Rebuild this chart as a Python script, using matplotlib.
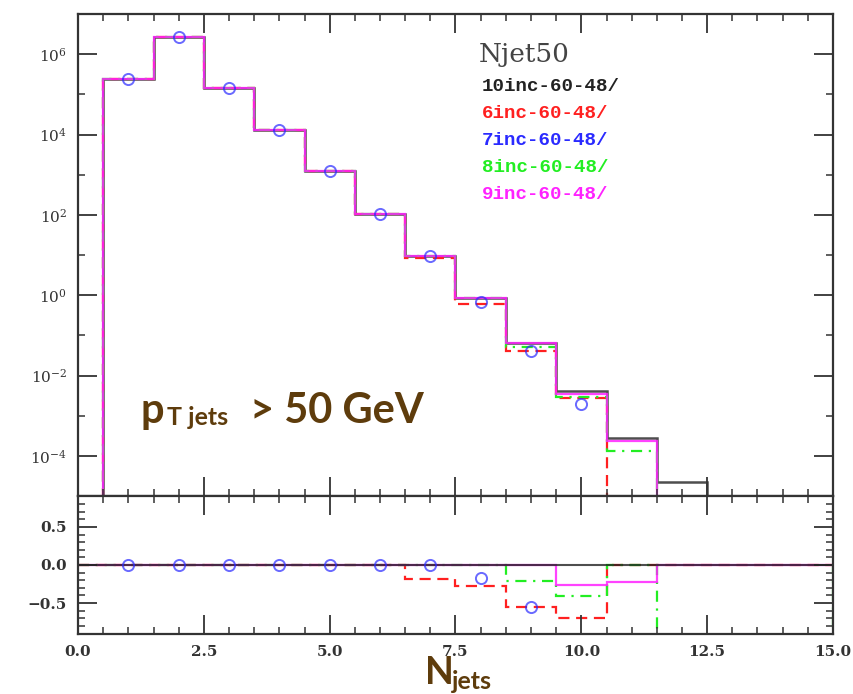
import numpy as np
import matplotlib
matplotlib.use("Agg")
import matplotlib.pyplot as plt
from matplotlib.ticker import FixedLocator, MultipleLocator, FuncFormatter, NullFormatter

# bins: N jets = 1 .. 12 (edges at half integers)
njets = np.arange(1, 13)

# main panel: cross section per jet multiplicity
y_10inc = [2.4e5, 2.7e6, 1.4e5, 1.26e4, 1.2e3, 107, 9.4, 0.83, 0.065, 0.0042, 2.8e-4, 2.2e-5]
y_6inc = [2.4e5, 2.7e6, 1.4e5, 1.26e4, 1.2e3, 105, 8.2, 0.62, 0.040, 0.0027]
y_7inc = [2.4e5, 2.7e6, 1.4e5, 1.26e4, 1.2e3, 107, 9.4, 0.67, 0.040, 0.0019]
y_8inc = [2.4e5, 2.7e6, 1.4e5, 1.26e4, 1.2e3, 107, 9.4, 0.83, 0.050, 0.0030, 1.3e-4]
y_9inc = [2.4e5, 2.7e6, 1.4e5, 1.26e4, 1.2e3, 107, 9.4, 0.83, 0.065, 0.0035, 2.3e-4]

# ratio panel, bins [0,0.5], then N = 1 .. 14, then [14.5,15]
r_6inc = [0, 0, 0, 0, 0, 0, 0, -0.19, -0.27, -0.55, -0.70, 0, 0, 0, 0, 0]
r_8inc = [0, 0, 0, 0, 0, 0, 0, 0, 0, -0.21, -0.41, 0, -1, -1, -1, -1]
r_9inc = [0, 0, 0, 0, 0, 0, 0, 0, 0, 0, -0.26, -0.22, 0, 0, 0, 0]
r_7inc = [0, 0, 0, 0, 0, 0, 0, -0.17, -0.55]

labels = ["10inc-60-48/", "6inc-60-48/", "7inc-60-48/", "8inc-60-48/", "9inc-60-48/"]
colors = ["#222222", "#ff2020", "#2a2aff", "#22ee22", "#ff22ff"]
BROWN = "#5e3c0c"
W, H = 854, 694

plt.rcParams["mathtext.fontset"] = "dejavuserif"
fig = plt.figure(figsize=(W / 100, H / 100), dpi=100)
ax = fig.add_axes([78 / W, 1 - 496 / H, (833 - 78) / W, (496 - 14) / H])
axr = fig.add_axes([78 / W, 1 - 634 / H, (833 - 78) / W, (634 - 496) / H], sharex=ax)

edges = np.append(njets - 0.5, njets[-1] + 0.5)
base = 1e-12
ax.stairs(y_10inc, edges, baseline=base, color=colors[0], lw=1.8, alpha=0.8)
ax.stairs(y_6inc, edges[:len(y_6inc) + 1], baseline=base, color=colors[1], lw=1.6, ls=(0, (5, 3)))
ax.stairs(y_8inc, edges[:len(y_8inc) + 1], baseline=base, color=colors[3], lw=1.6, ls=(0, (5, 3, 1, 3)))
ax.stairs(y_9inc, edges[:len(y_9inc) + 1], baseline=base, color=colors[4], lw=1.6, alpha=0.85)
ax.plot(njets[:len(y_7inc)], y_7inc, "o", ms=8, mfc="none", mec=colors[2], mew=1.4, alpha=0.7)

ax.set_yscale("log")
ax.set_xlim(0, 15)
ax.set_ylim(1e-5, 1e7)
ax.yaxis.set_major_locator(FixedLocator(10.0 ** np.arange(-4, 7, 2)))
ax.yaxis.set_minor_locator(FixedLocator(10.0 ** np.arange(-5, 8, 2)))
ax.yaxis.set_minor_formatter(NullFormatter())
ax.yaxis.set_major_formatter(FuncFormatter(lambda v, p: r"$10^{%d}$" % round(np.log10(v))))

# ratio panel
redges = np.concatenate([[0], np.arange(0.5, 15, 1.0), [15]])
axr.axhline(0, color=colors[0], lw=1.5, alpha=0.8)
axr.stairs(r_6inc, redges, color=colors[1], lw=1.6, ls=(0, (5, 3)))
axr.stairs(r_8inc, redges, color=colors[3], lw=1.6, ls=(0, (5, 3, 1, 3)))
axr.stairs(r_9inc, redges, color=colors[4], lw=1.6, alpha=0.85)
axr.plot(njets[:len(r_7inc)], r_7inc, "o", ms=8, mfc="none", mec=colors[2], mew=1.4, alpha=0.7)
axr.set_ylim(-0.905, 0.905)
axr.yaxis.set_major_locator(MultipleLocator(0.5))
axr.yaxis.set_minor_locator(MultipleLocator(0.1))
axr.yaxis.set_major_formatter(FuncFormatter(lambda v, p: ("%.1f" % v).replace("-", "\u2212")))
axr.xaxis.set_major_locator(MultipleLocator(2.5))
axr.xaxis.set_minor_locator(MultipleLocator(0.5))
axr.xaxis.set_major_formatter(FuncFormatter(lambda v, p: "%.1f" % v))

for a in (ax, axr):
    for s in a.spines.values():
        s.set_linewidth(1.6)
        s.set_color("#333333")
    a.tick_params(which="both", direction="in", top=True, right=True, color="#333333")
    a.tick_params(which="major", length=14, width=1.3, labelsize=11, pad=8)
    a.tick_params(which="minor", length=5, width=1.1)
    for t in a.get_xticklabels() + a.get_yticklabels():
        t.set_family("DejaVu Serif")
        t.set_fontweight("bold")
        t.set_color("#333333")
ax.tick_params(labelbottom=False)


def ftext(px, py, s, **kw):
    fig.text(px / W, 1 - py / H, s, **kw)


# legend block
ftext(479, 62, "Njet50", family="DejaVu Serif", fontsize=19, color="#444444")
for i, (lab, c) in enumerate(zip(labels, colors)):
    ftext(482, 91 + 27 * i, lab, family="Liberation Mono", fontweight="bold",
          fontsize=13.8, color=c)

# annotations
ftext(141, 423, "p", family="Lato", fontweight="bold", fontsize=30, color=BROWN)
ftext(167, 425, "T jets", family="Lato", fontweight="bold", fontsize=18, color=BROWN)
ftext(250, 423, "> 50 GeV", family="Lato", fontweight="bold", fontsize=30, color=BROWN)
ftext(425, 684, "N", family="Lato", fontweight="bold", fontsize=27, color=BROWN)
ftext(452, 689, "jets", family="Lato", fontweight="bold", fontsize=18, color=BROWN)

fig.savefig("out.png", dpi=100)
